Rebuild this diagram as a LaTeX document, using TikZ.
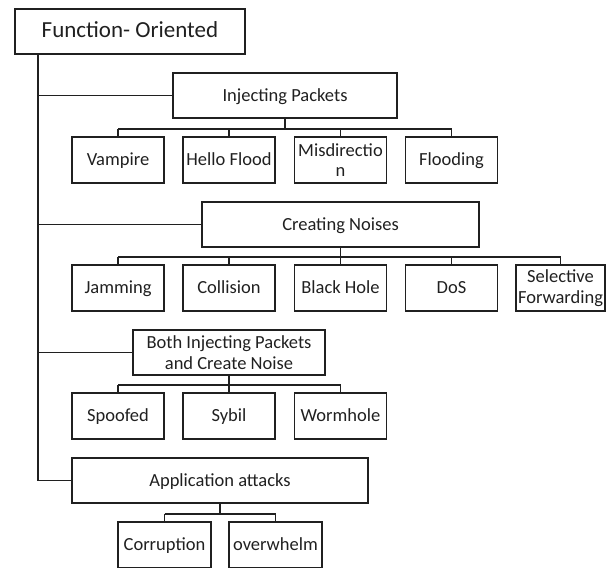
\documentclass[tikz,border=0pt]{standalone}
\usepackage{fontspec}
\setmainfont{Carlito}
\usetikzlibrary{calc}
\definecolor{ink}{HTML}{202020}
\tikzset{
  box/.style={draw=ink, text=ink, line width=1.8pt, rectangle, inner sep=0pt, align=center,
    minimum height=45pt, font=\fontsize{18.5}{20.5}\selectfont, text height=12pt, text depth=0.6pt},
  multi/.style={text height={}, text depth={}},
  leaf/.style={box, minimum width=92pt, minimum height=46pt},
  conn/.style={draw=ink, line width=1.8pt}
}
\begin{document}
\begin{tikzpicture}[x=1pt,y=-1pt]
\useasboundingbox (0,0) rectangle (609,567);
\clip (0,0) rectangle (609,567);
\coordinate (spine) at (38,0);
% root
\node[box, minimum width=230pt, font=\fontsize{23}{26}\selectfont, text height=16pt, text depth=4.4pt] (root) at (130,31.5) {Function- Oriented};
% level 1
\node[box, minimum width=224pt] (ip) at (285,95.5) {Injecting Packets};
\node[box, minimum width=277pt] (cn) at (340.5,224.5) {Creating Noises};
\node[box, multi, minimum width=192pt] (both) at (229,352.5) {Both Injecting Packets\\and Create Noise};
\node[box, minimum width=296pt] (app) at (220,480.5) {Application attacks};
% row 1
\node[leaf] (vam) at (118,160) {Vampire};
\node[leaf] (hf) at (229,160) {Hello Flood};
\node[leaf, multi] (mis) at (340.5,160) {Misdirectio\\n};
\node[leaf] (fl) at (451.5,160) {Flooding};
% row 2
\node[leaf] (jam) at (118,288) {Jamming};
\node[leaf] (col) at (229,288) {Collision};
\node[leaf] (bh) at (340.5,288) {Black Hole};
\node[leaf] (dos) at (451.5,288) {DoS};
\node[leaf, multi, minimum width=89pt] (sf) at (560.5,288) {Selective\\Forwarding};
% row 3
\node[leaf] (spf) at (118,416) {Spoofed};
\node[leaf] (syb) at (229,416) {Sybil};
\node[leaf] (wh) at (340.5,416) {Wormhole};
% row 4
\node[leaf, minimum width=93pt] (cor) at (164.5,545) {Corruption};
\node[leaf, minimum width=93pt] (ovw) at (275.5,545) {overwhelm};
% spine
\draw[conn] (root.south -| spine) |- (app.west);
\draw[conn] (ip.west -| spine) -- (ip.west);
\draw[conn] (cn.west -| spine) -- (cn.west);
\draw[conn] (both.west -| spine) -- (both.west);
% buses
\draw[conn] (ip.south) -- ++(0,10) coordinate (ipb);
\draw[conn] (ipb -| vam.north) -- (ipb -| fl.north);
\foreach \c in {vam,hf,mis,fl} \draw[conn] (ipb -| \c.north) -- (\c.north);
\draw[conn] (cn.south) -- ++(0,9) coordinate (cnb);
\draw[conn] (cnb -| jam.north) -- (cnb -| sf.north);
\foreach \c in {jam,col,bh,dos,sf} \draw[conn] (cnb -| \c.north) -- (\c.north);
\draw[conn] (both.south) -- ++(0,9) coordinate (bob);
\draw[conn] (bob -| spf.north) -- (bob -| wh.north);
\foreach \c in {spf,syb,wh} \draw[conn] (bob -| \c.north) -- (\c.north);
\draw[conn] (app.south) -- ++(0,10) coordinate (apb);
\draw[conn] (apb -| cor.north) -- (apb -| ovw.north);
\foreach \c in {cor,ovw} \draw[conn] (apb -| \c.north) -- (\c.north);
\end{tikzpicture}
\end{document}
